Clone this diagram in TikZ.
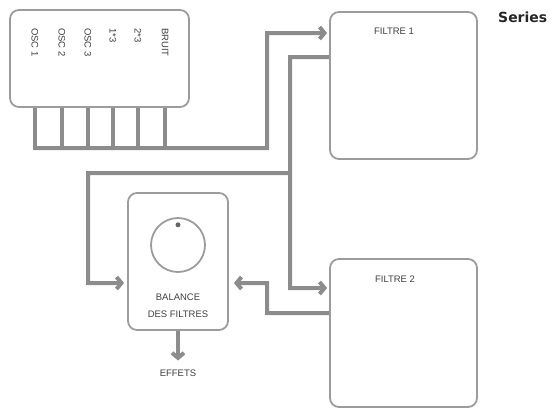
\documentclass[tikz,border=0pt]{standalone}
\usepackage{fontspec}
\setmainfont{Liberation Sans}
\newfontfamily\seriesfont{DejaVu Sans}
\usetikzlibrary{arrows.meta,positioning,calc}
\definecolor{trait}{HTML}{8C8C8C}
\definecolor{bord}{HTML}{9C9C9C}

\begin{document}
\begin{tikzpicture}[x=1bp,y=-1bp,
		boite/.style={draw=bord,line width=1.8bp,rounded corners=9bp,inner sep=0pt},
		lien/.style={draw=trait,line width=4bp},
		fleche/.style={lien,-{Straight Barb[length=5bp,width=12bp]}},
		etiq/.style={font=\fontsize{9.5}{11}\selectfont,text=black!75,inner sep=0pt}]
		\useasboundingbox (0,0) rectangle (551,409);
		
		% boites
		\node[boite,minimum width=179bp,minimum height=97bp] (mix) at (99.5,58.5) {};
		\node[boite,minimum width=147bp,minimum height=147bp] (f1) at (403.5,85.5) {};
		\node[boite,minimum width=147bp,minimum height=148bp] (f2) at (403.5,333) {};
		\node[boite,minimum width=100bp,minimum height=137bp] (bal) at (178,261.5) {};
		
		\node[etiq] (t1) at (394,31) {FILTRE 1};
		\node[etiq] (t2) at (395,279) {FILTRE 2};
		\node[etiq,align=center,font=\fontsize{9.5}{17}\selectfont] (tbal) at (178,306) {BALANCE\\DES FILTRES};
		\node[etiq] (effets) at (178,373) {EFFETS};
		\node[inner sep=0pt,anchor=west,text=black!85,font=\seriesfont\bfseries\fontsize{14}{16}\selectfont] (titre) at (498,17) {Series};
		
		\node[circle,draw=bord,line width=1.8bp,minimum size=54bp,inner sep=0pt] (bouton) at (178,245) {};
		\node[circle,fill=black!60,minimum size=5bp,inner sep=0pt,below=5bp of bouton.north] (repere) {};
		
		% voies
		\foreach \x/\nom [count=\i] in {35/OSC 1,62/OSC 2,88/OSC 3,113/1*3,138/2*3,165/BRUIT}{
			\node[etiq,rotate=-90,anchor=west] (v\i) at (\x,28) {\nom};
			\coordinate (s\i) at (\x,148);
			\draw[lien] (s\i) -- (s\i |- mix.south);
		}
		
		\coordinate (e1) at ([xshift=-2bp,yshift=52.5bp]f1.west);
		\coordinate (sortie1) at ([yshift=28.5bp]f1.west);
		\coordinate (e2) at ([xshift=-2bp,yshift=45bp]f2.west);
		\coordinate (sortie2) at ([yshift=20bp]f2.west);
		\coordinate (eb) at ([xshift=-3bp,yshift=-21.5bp]bal.west);
		\coordinate (rb) at ([xshift=5bp,yshift=-21.5bp]bal.east);
		\coordinate (noeud) at (290,173);
		
		% liaisons
		\draw[fleche] ([xshift=-2bp]s1) -| (267,33) -- (e1);
		\draw[fleche] (sortie1) -| (290,288) -- (e2);
		\draw[fleche] (noeud) -| (88,283) -- (eb);
		\draw[fleche] (sortie2) -| (267,283) -- (rb);
		\draw[fleche] (bal.south) -- ([yshift=9bp]effets.north);
		
	\end{tikzpicture}
\end{document}
